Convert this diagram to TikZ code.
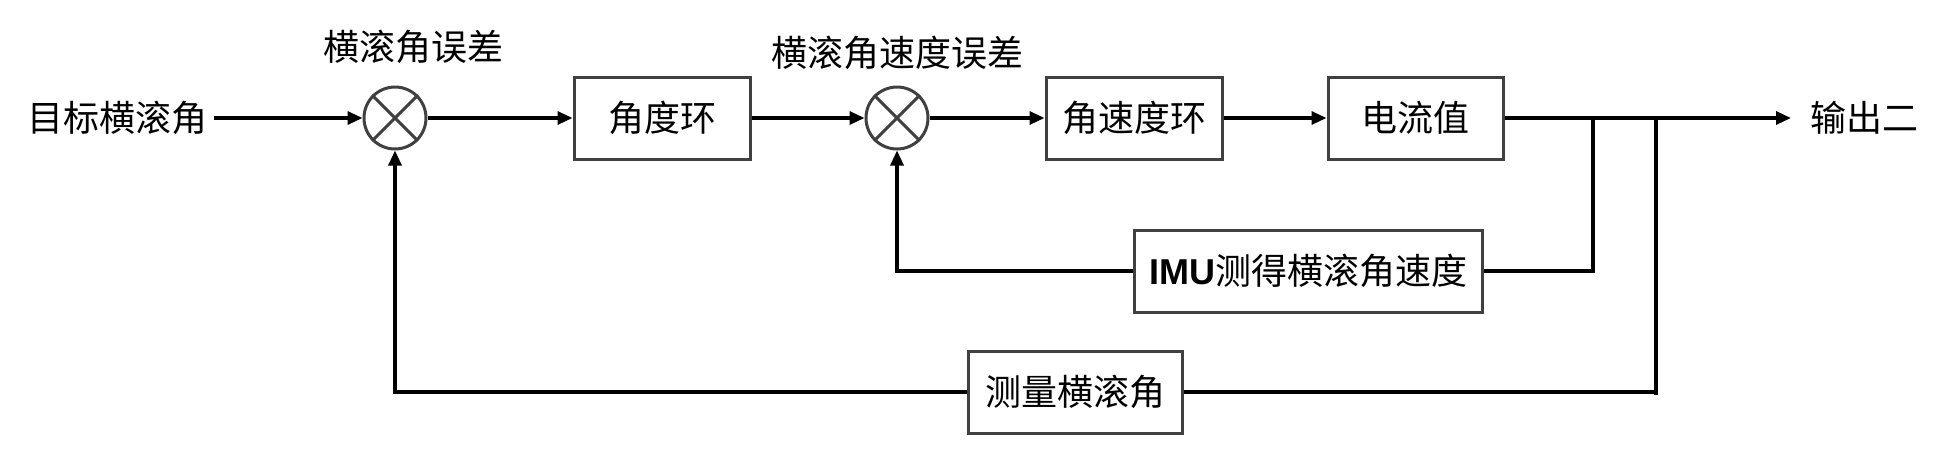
\documentclass[tikz,border=0pt]{standalone}
\usepackage{fontspec}
\setmainfont{Liberation Serif}
\newfontfamily\cjk{Noto Sans CJK SC}
\newfontfamily\latinbold{Liberation Sans}
\usetikzlibrary{arrows.meta}
\definecolor{boxgray}{HTML}{404040}
\begin{document}
\begin{tikzpicture}[x=0.5pt,y=-0.5pt,
  every node/.style={font=\cjk\fontsize{18pt}{20pt}\selectfont},
  blk/.style={draw=boxgray,line width=1.5pt,minimum height=41pt,inner sep=0pt},
  sumc/.style={draw=boxgray,circle,line width=1.5pt,minimum size=31pt,inner sep=0pt},
  conn/.style={line width=1.6pt},
  arr/.style={conn,-{Triangle[length=7.5pt,width=6.5pt]}}]
\useasboundingbox (0,0) rectangle (1939,456);
\node (in) at (117,118) {目标横滚角};
\node[sumc] (s1) at (395,118) {};
\node (e1) at (413,47) {横滚角误差};
\node[blk,minimum width=88pt] (b1) at (662,118) {角度环};
\node[sumc] (s2) at (897,118) {};
\node (e2) at (897,53) {横滚角速度误差};
\node[blk,minimum width=88pt] (b2) at (1134,118) {角速度环};
\node[blk,minimum width=87.5pt] (b3) at (1415.5,118) {电流值};
\node (out) at (1864,118) {输出二};
\node[blk,minimum width=174pt] (imu) at (1308,271) {{\latinbold\bfseries IMU}测得横滚角速度};
\node[blk,minimum width=107pt] (meas) at (1075,392) {测量横滚角};
\coordinate (j1) at (1593,118);
\coordinate (j2) at (1656,118);
\coordinate (j2b) at (1656,395);
\coordinate (tip) at (1791,118);
\foreach \s in {s1,s2}{
  \draw[boxgray,line width=1.5pt] (\s.north east) -- (\s.south west) (\s.north west) -- (\s.south east);
}
\draw[arr] (in.east) -- (s1.west);
\draw[arr] (s1.east) -- (b1.west);
\draw[arr] (b1.east) -- (s2.west);
\draw[arr] (s2.east) -- (b2.west);
\draw[arr] (b2.east) -- (b3.west);
\draw[arr] (b3.east) -- (tip);
\draw[conn] (j1) |- (imu.east);
\draw[arr] (imu.west) -| (s2.south);
\draw[conn] (j2) -- (j2b);
\draw[conn] (meas.east) -- (meas.east -| j2);
\draw[arr] (meas.west) -| (s1.south);
\end{tikzpicture}
\end{document}
